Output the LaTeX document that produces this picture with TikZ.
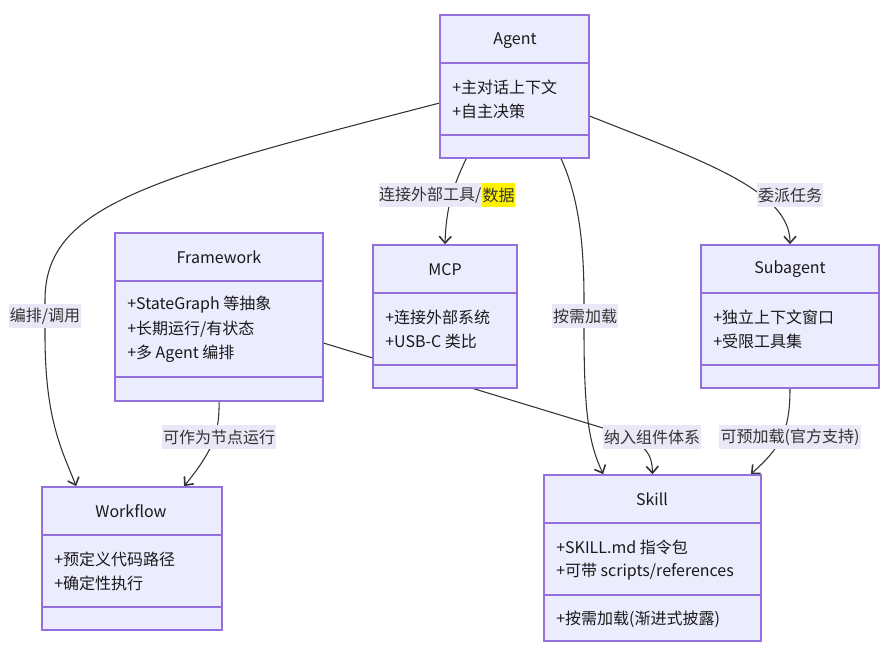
\documentclass[tikz,border=0pt]{standalone}
\usepackage{fontspec}
\setmainfont{Noto Sans CJK SC}
\usetikzlibrary{arrows.meta,fit,calc}
\definecolor{boxfill}{HTML}{ECECFF}
\definecolor{boxline}{HTML}{9370DB}
\definecolor{edgecol}{HTML}{333333}
\definecolor{labelbg}{HTML}{E8E8F6}
\definecolor{txt}{HTML}{1A1A1A}
\pgfdeclarelayer{bg}
\pgfsetlayers{bg,main}
\begin{document}
\begin{tikzpicture}[x=0.75pt,y=-0.75pt,
  classbox/.style={draw=boxline, fill=boxfill, line width=1.3pt, inner sep=0pt},
  divider/.style={draw=boxline, line width=1.3pt},
  title/.style={font=\fontsize{12pt}{14pt}\selectfont, text=txt, inner sep=0pt, yshift=-1pt},
  attr/.style={title, anchor=west},
  edge/.style={draw=edgecol, line width=0.8pt, -{Straight Barb[length=5pt,width=9pt,line width=1.2pt]}},
  elabel/.style={fill=labelbg, text=edgecol, font=\fontsize{12pt}{14pt}\selectfont, inner xsep=1pt, inner ysep=0pt, minimum height=17.5pt}]
\useasboundingbox (0,0) rectangle (893,651);

% ---- class boxes ----
\node[classbox, fit={(440,15) (589,158)}] (agent) {};
\draw[divider] (440,62.7) -- (589,62.7);
\draw[divider] (440,135) -- (589,135);
\node[title] (agentT) at (515,39) {Agent};
\node[attr] (agentA1) at (452,86) {+主对话上下文};
\node[attr] (agentA2) at (452,110) {+自主决策};

\node[classbox, fit={(115,233) (323,401)}] (framework) {};
\draw[divider] (115,281) -- (323,281);
\draw[divider] (115,377) -- (323,377);
\node[title] (frameworkT) at (219,256) {Framework};
\node[attr] (frameworkA1) at (127,303) {+StateGraph 等抽象};
\node[attr] (frameworkA2) at (127,328) {+长期运行/有状态};
\node[attr] (frameworkA3) at (127,352) {+多 Agent 编排};

\node[classbox, fit={(373,245) (517,388)}] (mcp) {};
\draw[divider] (373,292.7) -- (517,292.7);
\draw[divider] (373,365) -- (517,365);
\node[title] (mcpT) at (445,268) {MCP};
\node[attr] (mcpA1) at (385,316) {+连接外部系统};
\node[attr] (mcpA2) at (385,340) {+USB-C 类比};

\node[classbox, fit={(701,245) (879,388)}] (subagent) {};
\draw[divider] (701,292.7) -- (879,292.7);
\draw[divider] (701,365) -- (879,365);
\node[title] (subagentT) at (790,268) {Subagent};
\node[attr] (subagentA1) at (713,316) {+独立上下文窗口};
\node[attr] (subagentA2) at (713,340) {+受限工具集};

\node[classbox, fit={(544,475) (761,641)}] (skill) {};
\draw[divider] (544,522.7) -- (761,522.7);
\draw[divider] (544,594.7) -- (761,594.7);
\node[title] (skillT) at (652,498) {Skill};
\node[attr] (skillA1) at (556,546) {+SKILL.md 指令包};
\node[attr] (skillA2) at (556,570) {+可带 scripts/references};
\node[attr] (skillM1) at (556,618) {+按需加载(渐进式披露)};

\node[classbox, fit={(42,487) (222,630)}] (workflow) {};
\draw[divider] (42,535) -- (222,535);
\draw[divider] (42,607) -- (222,607);
\node[title] (workflowT) at (131,510) {Workflow};
\node[attr] (workflowA1) at (54,558) {+预定义代码路径};
\node[attr] (workflowA2) at (54,582) {+确定性执行};

% ---- connectors ----
\begin{pgfonlayer}{bg}
\fill[white] (0,0) rectangle (893,651);
\draw[edge] ($(agent.north west)+(0,89)$) .. controls (150,178) and (45,205) .. (45,300)
  -- (45,335) .. controls (45,420) and (62,450) .. ($(workflow.north west)+(35,0)$);
\draw[edge] ($(agent.south west)+(27,0)$) .. controls (452,188) and (446,210) .. (mcp.north);
\draw[edge] ($(agent.south west)+(122,0)$) .. controls (580,200) and (584,250) .. (584,300)
  -- (584,330) .. controls (584,420) and (590,445) .. ($(skill.north west)+(60,0)$);
\draw[edge] ($(agent.north east)+(0,102)$) .. controls (700,160) and (790,190) .. (subagent.north);
\draw[edge] ($(framework.south west)+(105,0)$) .. controls (219,432) and (215,448) .. ($(workflow.north west)+(143,0)$);
\draw[edge] ($(framework.north east)+(0,111)$) -- (603,428) .. controls (648,442) and (652,455) .. (skill.north);
\draw[edge] (subagent.south) .. controls (790,432) and (780,448) .. ($(skill.north east)+(-11,0)$);
\end{pgfonlayer}

% ---- edge labels ----
\node[elabel] (l1) at (45,316) {编排/调用};
\node[elabel, anchor=east, inner xsep=0.3pt] (l2a) at (482,195) {连接外部工具/};
\node[elabel, anchor=west, fill=yellow, inner xsep=0.3pt] (l2b) at (l2a.east) {数据};
\node[elabel] (l3) at (585,316) {按需加载};
\node[elabel] (l4) at (790,195) {委派任务};
\node[elabel] (l5) at (219,437) {可作为节点运行};
\node[elabel] (l6) at (652,437) {纳入组件体系};
\node[elabel] (l7) at (790,437) {可预加载(官方支持)};
\end{tikzpicture}
\end{document}
